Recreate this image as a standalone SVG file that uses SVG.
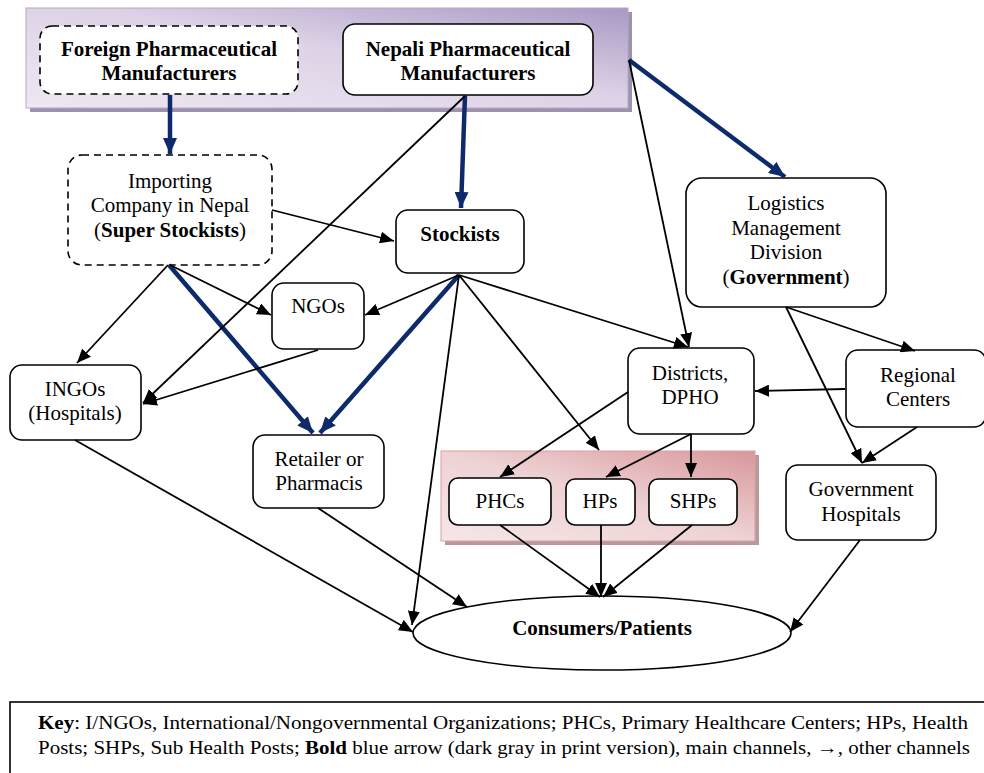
<svg xmlns="http://www.w3.org/2000/svg" width="984" height="773" viewBox="0 0 984 773">
  <defs>
    <linearGradient id="gPurple" x1="0" y1="1" x2="1" y2="0">
      <stop offset="0" stop-color="#eee8f2"/>
      <stop offset="0.55" stop-color="#ddd2e6"/>
      <stop offset="1" stop-color="#a999c4"/>
    </linearGradient>
    <linearGradient id="gPink" x1="0" y1="1" x2="1" y2="0">
      <stop offset="0" stop-color="#f6e6e8"/>
      <stop offset="0.5" stop-color="#eed2d4"/>
      <stop offset="1" stop-color="#d8979b"/>
    </linearGradient>
    <marker id="aThin" viewBox="0 0 14 12" refX="14" refY="6" markerWidth="14" markerHeight="12" markerUnits="userSpaceOnUse" orient="auto">
      <path d="M0,0 L14,6 L0,12 Z" fill="#000"/>
    </marker>
    <marker id="aBold" viewBox="0 0 16 14" refX="16" refY="7" markerWidth="16" markerHeight="14" markerUnits="userSpaceOnUse" orient="auto">
      <path d="M0,0 L16,7 L0,14 Z" fill="#0d2a6b"/>
    </marker>
  </defs>
  <style>
    text { font-family: "Liberation Serif", "Times New Roman", serif; font-size: 21px; fill: #000; text-anchor: middle; }
    .b { font-weight: bold; }
    .box { fill: #fff; stroke: #000; stroke-width: 1.6; }
    .dash { stroke-dasharray: 7 5; }
    .thin { fill: none; stroke: #000; stroke-width: 1.8; marker-end: url(#aThin); }
    .bold { fill: none; stroke: #0d2a6b; stroke-width: 4.5; marker-end: url(#aBold); }
    .key { font-size: 19px; text-anchor: start; }
  </style>

  <rect width="984" height="773" fill="#fff"/>

  <!-- manufacturer band -->
  <g id="band-manufacturers">
    <rect x="30" y="12" width="602" height="100" fill="#9d91ad"/>
    <rect x="26" y="8" width="602" height="100" fill="url(#gPurple)" stroke="#b4a8c8" stroke-width="1"/>
  </g>
  <!-- public facility band -->
  <g id="band-facilities">
    <rect x="445" y="455" width="314" height="90" fill="#b79a9c"/>
    <rect x="441" y="451" width="314" height="90" fill="url(#gPink)" stroke="#d8a0a4" stroke-width="1"/>
  </g>

  <g id="foreign">
    <rect class="box dash" x="40" y="26" width="258" height="68" rx="12"/>
    <text class="b" x="169" y="56">Foreign Pharmaceutical</text>
    <text class="b" x="169" y="80">Manufacturers</text>
  </g>
  <g id="nepali">
    <rect class="box" x="343" y="24" width="250" height="71" rx="12"/>
    <text class="b" x="468" y="56">Nepali Pharmaceutical</text>
    <text class="b" x="468" y="80">Manufacturers</text>
  </g>
  <g id="importing">
    <rect class="box dash" x="68" y="155" width="204" height="110" rx="14"/>
    <text x="170" y="188">Importing</text>
    <text x="170" y="212">Company in Nepal</text>
    <text x="170" y="237">(<tspan class="b">Super Stockists</tspan>)</text>
  </g>
  <g id="stockists">
    <rect class="box" x="396" y="210" width="128" height="63" rx="12"/>
    <text class="b" x="460" y="241">Stockists</text>
  </g>
  <g id="ngos">
    <rect class="box" x="272" y="283" width="92" height="66" rx="12"/>
    <text x="318" y="313">NGOs</text>
  </g>
  <g id="ingos">
    <rect class="box" x="10" y="365" width="131" height="75" rx="12"/>
    <text x="75" y="396">INGOs</text>
    <text x="75" y="420">(Hospitals)</text>
  </g>
  <g id="retailer">
    <rect class="box" x="253" y="435" width="131" height="73" rx="12"/>
    <text x="319" y="466">Retailer or</text>
    <text x="319" y="490">Pharmacis</text>
  </g>
  <g id="logistics">
    <rect class="box" x="686" y="178" width="200" height="129" rx="16"/>
    <text x="786" y="210">Logistics</text>
    <text x="786" y="235">Management</text>
    <text x="786" y="259">Division</text>
    <text x="786" y="284">(<tspan class="b">Government</tspan>)</text>
  </g>
  <g id="districts">
    <rect class="box" x="628" y="348" width="126" height="86" rx="12"/>
    <text x="690" y="380">Districts,</text>
    <text x="690" y="404">DPHO</text>
  </g>
  <g id="regional">
    <rect class="box" x="846" y="350" width="140" height="77" rx="12"/>
    <text x="918" y="382">Regional</text>
    <text x="918" y="406">Centers</text>
  </g>
  <g id="phcs">
    <rect class="box" x="449" y="478" width="102" height="47" rx="9"/>
    <text x="500" y="508">PHCs</text>
  </g>
  <g id="hps">
    <rect class="box" x="566" y="479" width="69" height="46" rx="9"/>
    <text x="600" y="508">HPs</text>
  </g>
  <g id="shps">
    <rect class="box" x="649" y="479" width="88" height="46" rx="9"/>
    <text x="693" y="508">SHPs</text>
  </g>
  <g id="gov-hospitals">
    <rect class="box" x="786" y="465" width="150" height="75" rx="12"/>
    <text x="861" y="496">Government</text>
    <text x="861" y="521">Hospitals</text>
  </g>
  <g id="consumers">
    <ellipse class="box" cx="602" cy="633" rx="189" ry="37"/>
    <text class="b" x="602" y="635">Consumers/Patients</text>
  </g>

  <!-- connectors -->
  <g id="connectors">
    <!-- main channels -->
    <line class="bold" x1="170" y1="95" x2="170" y2="154"/>
    <line class="bold" x1="465" y1="95" x2="461" y2="208"/>
    <line class="bold" x1="629" y1="60" x2="785" y2="177"/>
    <line class="bold" x1="169" y1="265" x2="313" y2="433"/>
    <line class="bold" x1="459" y1="275" x2="320" y2="433"/>
    <!-- other channels -->
    <line class="thin" x1="465" y1="96" x2="143" y2="403"/>
    <line class="thin" x1="629" y1="60" x2="689" y2="347"/>
    <line class="thin" x1="272" y1="210" x2="394" y2="241"/>
    <line class="thin" x1="168" y1="265" x2="77" y2="363"/>
    <line class="thin" x1="170" y1="265" x2="271" y2="315"/>
    <line class="thin" x1="318" y1="350" x2="143" y2="404"/>
    <line class="thin" x1="459" y1="275" x2="365" y2="315"/>
    <line class="thin" x1="459" y1="275" x2="688" y2="347"/>
    <line class="thin" x1="459" y1="275" x2="599" y2="450"/>
    <line class="thin" x1="459" y1="275" x2="412" y2="625"/>
    <line class="thin" x1="75" y1="440" x2="413" y2="632"/>
    <line class="thin" x1="318" y1="508" x2="467" y2="607"/>
    <line class="thin" x1="628" y1="392" x2="500" y2="477"/>
    <line class="thin" x1="691" y1="434" x2="606" y2="477"/>
    <line class="thin" x1="691" y1="434" x2="691" y2="477"/>
    <line class="thin" x1="845" y1="389" x2="755" y2="391"/>
    <line class="thin" x1="786" y1="307" x2="915" y2="351"/>
    <line class="thin" x1="786" y1="307" x2="862" y2="463"/>
    <line class="thin" x1="917" y1="427" x2="862" y2="463"/>
    <line class="thin" x1="500" y1="525" x2="600" y2="597"/>
    <line class="thin" x1="601" y1="525" x2="601" y2="597"/>
    <line class="thin" x1="692" y1="525" x2="603" y2="597"/>
    <line class="thin" x1="860" y1="540" x2="790" y2="632"/>
  </g>

  <!-- legend -->
  <g id="key">
    <rect x="10" y="702" width="990" height="80" fill="#fff" stroke="#000" stroke-width="1.6"/>
    <text class="key" x="38" y="729" textLength="930" lengthAdjust="spacingAndGlyphs"><tspan class="b">Key</tspan>: I/NGOs, International/Nongovernmental Organizations; PHCs, Primary Healthcare Centers; HPs, Health</text>
    <text class="key" x="38" y="754" textLength="932" lengthAdjust="spacingAndGlyphs">Posts; SHPs, Sub Health Posts; <tspan class="b">Bold</tspan> blue arrow (dark gray in print version), main channels, →, other channels</text>
  </g>
</svg>
